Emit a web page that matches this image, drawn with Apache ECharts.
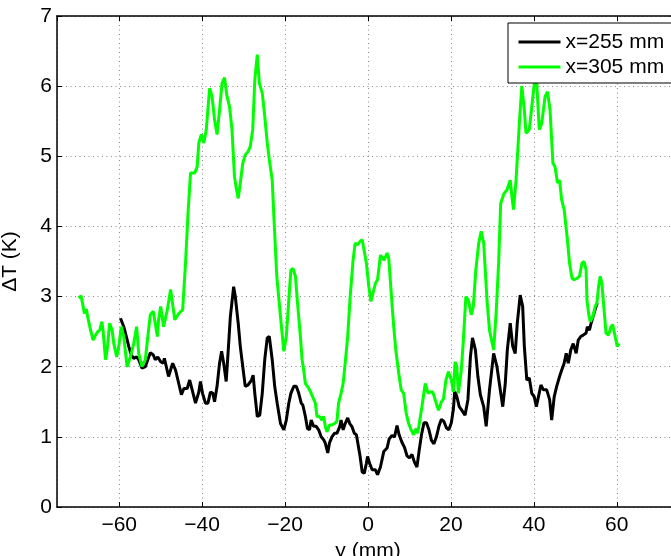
<!DOCTYPE html>
<html>
<head>
<meta charset="utf-8">
<script src="https://cdn.jsdelivr.net/npm/echarts@6/dist/echarts.min.js"></script>
<style>
html,body{margin:0;padding:0;background:#fff;}
#chart{width:671px;height:556px;}
</style>
</head>
<body>
<div id="chart"></div>
<script>
const seriesNames = ['x=255 mm', 'x=305 mm'];
const xRange = [-75, 75];
const yRange = [0, 7];

const blackX = [-59.7,-58.9,-58.2,-57.7,-57.1,-56.5,-55.8,-55.3,-54.5,-53.7,-53.1,-52.5,-51.8,-51.3,-50.7,-50.0,-49.4,-49.1,-48.1,-47.1,-46.4,-45.6,-45.0,-44.4,-43.6,-43.0,-42.4,-41.6,-40.8,-40.4,-39.9,-39.2,-38.6,-38.0,-37.4,-37.0,-36.4,-35.8,-35.3,-34.8,-34.2,-33.7,-33.2,-32.4,-32.0,-31.3,-30.8,-30.2,-29.6,-28.9,-28.1,-27.7,-27.3,-26.7,-26.1,-25.5,-24.9,-24.3,-23.8,-23.1,-22.5,-21.9,-21.1,-20.3,-19.7,-19.1,-18.6,-17.9,-17.3,-16.7,-16.1,-15.7,-15.1,-14.6,-14.1,-13.7,-13.1,-12.5,-11.9,-11.3,-10.7,-10.3,-9.7,-9.3,-8.7,-8.1,-7.5,-6.8,-6.5,-6.0,-5.5,-4.9,-4.4,-3.9,-3.3,-2.8,-2.3,-1.9,-1.4,-0.9,-0.4,-0.1,0.4,1.0,1.8,2.3,3.0,3.8,4.6,5.1,5.8,6.4,7.0,7.5,8.2,8.8,9.4,10.0,10.6,11.2,11.8,12.3,12.9,13.5,14.1,14.7,15.3,15.9,16.5,17.1,17.7,18.3,18.9,19.5,20.1,20.6,20.9,21.4,22.0,22.6,23.0,23.4,24.1,24.7,25.2,25.9,26.5,27.1,27.9,28.5,29.3,30.3,31.1,31.9,32.5,33.1,33.6,34.3,34.9,35.5,36.0,36.7,37.3,37.7,38.3,38.9,39.5,40.1,40.6,41.1,41.7,42.3,43.1,43.8,44.3,44.9,45.5,46.2,46.7,47.3,47.8,48.3,48.9,49.5,50.2,50.7,51.3,51.9,52.6,52.9,53.4,53.8,54.4,55.0,55.3];
const blackY = [2.69,2.57,2.41,2.29,2.17,2.12,2.14,2.10,1.98,2.00,2.10,2.20,2.17,2.10,2.14,2.07,2.05,2.12,1.86,2.05,1.95,1.75,1.60,1.69,1.69,1.81,1.67,1.48,1.64,1.79,1.62,1.48,1.48,1.64,1.62,1.50,1.72,2.05,2.22,2.05,1.79,2.24,2.71,3.14,3.00,2.62,2.29,2.00,1.72,1.74,1.81,1.88,1.62,1.29,1.31,1.62,2.10,2.41,2.43,2.10,1.72,1.48,1.19,1.10,1.24,1.48,1.62,1.72,1.72,1.62,1.48,1.45,1.29,1.12,1.10,1.24,1.15,1.15,1.10,1.00,0.96,0.91,0.77,0.91,1.00,1.05,1.05,1.15,1.24,1.10,1.19,1.27,1.19,1.15,1.05,1.03,0.86,0.72,0.50,0.48,0.62,0.72,0.62,0.53,0.53,0.46,0.57,0.79,0.84,0.97,1.02,1.00,1.16,1.03,0.92,0.85,0.73,0.70,0.75,0.64,0.57,0.79,1.03,1.20,1.20,1.10,0.95,0.90,1.00,1.15,1.25,1.22,1.13,1.10,1.20,1.40,1.65,1.58,1.43,1.38,1.40,1.31,1.53,2.14,2.41,2.24,1.86,1.60,1.43,1.15,1.67,2.19,2.00,1.67,1.43,1.76,2.24,2.62,2.29,2.19,2.62,3.02,2.86,2.29,1.81,1.84,1.62,1.57,1.43,1.57,1.74,1.67,1.67,1.53,1.24,1.57,1.72,1.86,1.95,2.05,2.19,2.05,2.24,2.33,2.19,2.38,2.43,2.45,2.48,2.57,2.52,2.62,2.74,2.86,2.91];

const greenX = [-69.8,-69.2,-68.7,-68.4,-67.9,-67.6,-66.9,-66.3,-65.7,-65.2,-64.7,-64.2,-63.9,-63.3,-62.9,-62.3,-61.7,-61.3,-60.6,-60.1,-59.5,-58.9,-58.1,-57.3,-56.5,-55.8,-55.3,-54.5,-53.7,-53.1,-52.5,-51.8,-51.3,-50.8,-50.5,-50.0,-49.3,-48.4,-47.6,-46.6,-45.6,-44.7,-44.0,-43.4,-42.8,-41.8,-41.2,-40.8,-40.2,-39.6,-39.0,-38.2,-37.6,-37.0,-36.4,-35.8,-35.2,-34.6,-34.0,-33.4,-32.8,-32.2,-31.7,-31.3,-30.8,-30.2,-29.6,-28.9,-28.4,-27.8,-27.3,-26.7,-26.2,-25.5,-24.9,-24.3,-23.8,-23.1,-22.7,-22.0,-21.1,-20.3,-19.7,-19.1,-18.6,-18.1,-17.5,-17.0,-16.3,-15.9,-15.5,-15.1,-14.6,-14.1,-13.7,-13.3,-12.7,-12.3,-11.7,-11.1,-10.7,-10.3,-9.9,-9.3,-8.7,-8.1,-7.5,-7.1,-6.5,-6.0,-5.5,-4.9,-4.3,-3.6,-3.1,-2.5,-2.0,-1.4,-1.1,-0.4,0.2,0.7,1.2,1.8,2.3,3.0,3.5,3.9,4.6,5.0,5.6,6.2,6.7,7.4,8.0,8.6,9.2,9.8,10.4,11.0,11.6,12.0,12.4,13.0,13.8,14.5,15.0,15.6,16.0,16.6,17.0,17.7,18.2,18.8,19.4,20.1,20.6,21.0,21.4,21.8,22.5,23.0,23.6,24.2,24.9,25.4,26.0,26.7,27.3,27.9,28.7,29.3,30.3,30.9,31.5,32.0,32.8,33.5,34.3,34.7,35.1,35.7,36.5,37.1,37.7,38.1,38.9,39.5,40.1,40.7,41.3,41.9,42.7,43.3,43.9,44.6,45.1,45.7,46.2,46.7,47.3,48.0,48.6,49.2,49.7,50.4,51.0,51.6,52.1,52.6,52.8,53.2,53.6,54.2,54.8,55.2,55.6,56.0,56.4,57.0,57.4,58.0,58.6,59.0,59.6,60.1,60.6];
const greenY = [2.98,3.01,2.86,2.76,2.82,2.71,2.52,2.38,2.45,2.50,2.52,2.64,2.52,2.10,2.24,2.62,2.52,2.33,2.14,2.29,2.57,2.43,2.00,2.14,2.33,2.57,2.19,2.00,2.10,2.43,2.74,2.79,2.62,2.43,2.67,2.86,2.57,2.81,3.10,2.67,2.76,2.81,3.48,4.19,4.76,4.76,4.85,5.19,5.31,5.19,5.38,5.97,5.85,5.52,5.31,5.66,6.04,6.12,5.85,5.71,5.38,4.71,4.52,4.40,4.62,4.90,5.02,5.07,5.14,5.38,6.09,6.45,6.04,5.90,5.57,5.19,4.95,4.66,4.14,3.29,2.71,2.22,2.43,2.95,3.38,3.40,3.29,2.91,2.43,2.10,1.95,1.76,1.72,1.67,1.62,1.64,1.48,1.29,1.29,1.24,1.29,1.15,1.07,1.17,1.17,1.19,1.22,1.48,1.62,1.76,2.05,2.43,3.00,3.52,3.76,3.74,3.78,3.81,3.71,3.48,3.14,2.93,3.05,3.19,3.24,3.59,3.55,3.52,3.62,3.55,3.05,2.57,2.24,1.91,1.67,1.62,1.34,1.19,1.10,1.03,1.12,1.05,1.03,1.43,1.76,1.62,1.64,1.64,1.57,1.45,1.38,1.50,1.54,1.81,1.93,1.81,1.64,2.07,2.00,1.62,1.95,2.38,3.00,2.95,2.74,2.86,3.38,3.76,3.93,3.76,2.95,2.52,2.24,2.76,3.48,4.33,4.47,4.52,4.66,4.43,4.24,4.66,5.47,6.00,5.66,5.33,5.38,5.71,6.04,6.04,5.38,5.47,5.85,5.92,5.66,4.90,4.85,4.62,4.66,4.38,4.24,3.86,3.48,3.26,3.24,3.26,3.29,3.48,3.50,3.38,2.95,2.76,2.64,2.71,2.86,2.91,3.14,3.29,3.19,2.76,2.48,2.45,2.57,2.60,2.43,2.29,2.33];

const FONT = "'Liberation Sans', Arial, Helvetica, sans-serif";
const FS = 21;
const pairs = (xs, ys) => xs.map((x, i) => [x, ys[i]]);
const minusFmt = v => String(v).replace('-', '\u2212');

const gridLine = { show: true, lineStyle: { color: '#888', width: 1, type: [1, 3.5] } };
const axisLineStyle = { show: true, onZero: false, lineStyle: { color: '#000', width: 1.5 } };
const tickInside = { show: true, inside: true, length: 5, lineStyle: { color: '#000', width: 1 } };

const chart = echarts.init(document.getElementById('chart'), null, { renderer: 'canvas' });
chart.setOption({
  animation: false,
  backgroundColor: '#fff',
  textStyle: { fontFamily: FONT },
  grid: { left: 57, top: 16, right: -8, bottom: 49, containLabel: false, outerBoundsMode: 'none' },
  legend: {
    orient: 'vertical',
    left: 508, top: 23,
    padding: [8, 30, 5, 9],
    itemGap: 3,
    itemWidth: 42, itemHeight: 14,
    backgroundColor: '#fff',
    borderColor: '#000', borderWidth: 1, borderRadius: 0,
    itemStyle: { opacity: 0 },
    lineStyle: { width: 3 },
    textStyle: { fontFamily: FONT, fontSize: FS, color: '#000', lineHeight: 22 },
    data: seriesNames
  },
  xAxis: [{
    type: 'value', min: xRange[0], max: xRange[1], splitNumber: 8,
    position: 'bottom',
    name: 'y (mm)', nameLocation: 'middle', nameGap: 26,
    nameTextStyle: { fontFamily: FONT, fontSize: FS, color: '#000' },
    axisLine: axisLineStyle,
    axisTick: tickInside,
    axisLabel: { color: '#000', fontFamily: FONT, fontSize: FS, margin: 8, showMinLabel: false, showMaxLabel: false, formatter: minusFmt },
    splitLine: gridLine
  }, {
    type: 'value', min: xRange[0], max: xRange[1], splitNumber: 8,
    position: 'top',
    axisLine: axisLineStyle,
    axisTick: tickInside,
    axisLabel: { show: false },
    splitLine: { show: false }
  }],
  yAxis: [{
    type: 'value', min: yRange[0], max: yRange[1], interval: 1,
    position: 'left',
    name: '\u0394T (K)', nameLocation: 'middle', nameGap: 36, nameRotate: 90,
    nameTextStyle: { fontFamily: FONT, fontSize: FS, color: '#000' },
    axisLine: axisLineStyle,
    axisTick: tickInside,
    axisLabel: { color: '#000', fontFamily: FONT, fontSize: FS, margin: 5 },
    splitLine: gridLine
  }],
  series: [{
    name: seriesNames[0], type: 'line', xAxisIndex: 0, yAxisIndex: 0,
    data: pairs(blackX, blackY),
    showSymbol: false, symbol: 'none',
    lineStyle: { color: '#000', width: 3 }, itemStyle: { color: '#000' },
    z: 2
  }, {
    name: seriesNames[1], type: 'line', xAxisIndex: 0, yAxisIndex: 0,
    data: pairs(greenX, greenY),
    showSymbol: false, symbol: 'none',
    lineStyle: { color: '#00ff00', width: 3 }, itemStyle: { color: '#00ff00' },
    z: 3
  }]
});
</script>
</body>
</html>
